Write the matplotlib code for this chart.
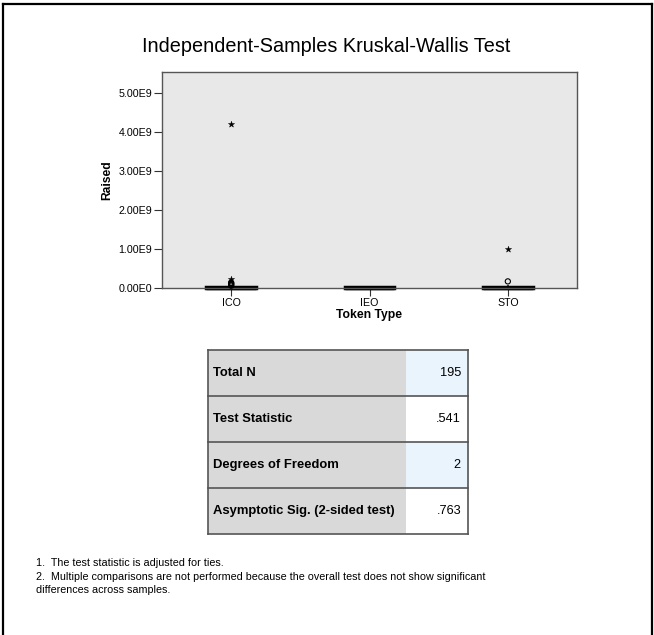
import matplotlib
matplotlib.use('Agg')
import matplotlib.pyplot as plt
from matplotlib.patches import Rectangle

plt.rcParams['font.family'] = ['Liberation Sans', 'DejaVu Sans']

# data
categories = ['ICO', 'IEO', 'STO']
box_q1 = [0.0, 0.0, 0.0]
box_med = [5e6, 3e6, 4e6]
box_q3 = [3e7, 2.5e7, 3e7]
whisker_lo = [0.0, 0.0, 0.0]
whisker_hi = [5e7, 2.5e7, 4e7]
outliers = [[6e7, 8e7, 1.0e8, 1.2e8, 1.4e8], [], [1.7e8]]   # circles
extremes = [[2.2e8, 4.22e9], [], [1.0e9]]                   # stars
y_ticks = [0, 1e9, 2e9, 3e9, 4e9, 5e9]
y_tick_labels = ['0.00E0', '1.00E9', '2.00E9', '3.00E9', '4.00E9', '5.00E9']

table_labels = ['Total N', 'Test Statistic', 'Degrees of Freedom', 'Asymptotic Sig. (2-sided test)']
table_values = ['195', '.541', '2', '.763']

footnotes = [
    '1.  The test statistic is adjusted for ties.',
    '2.  Multiple comparisons are not performed because the overall test does not show significant',
    'differences across samples.',
]

W, H = 654, 635
fig = plt.figure(figsize=(W / 100, H / 100), dpi=100)

# full-figure overlay in pixel coordinates for frame, table and notes
bg = fig.add_axes([0, 0, 1, 1])
bg.set_xlim(0, W)
bg.set_ylim(H, 0)
bg.axis('off')
bg.plot([3, 3], [H + 5, 3.5], color='black', lw=1.6)
bg.plot([3, 651.5], [3.5, 3.5], color='black', lw=1.6)
bg.plot([651.5, 651.5], [3.5, H + 5], color='black', lw=1.6)

bg.text(326, 47, 'Independent-Samples Kruskal-Wallis Test', ha='center', va='center',
        fontsize=14.3)

# boxplot axes
ax = fig.add_axes([162 / W, 1 - 288 / H, (577 - 162) / W, (288 - 71.5) / H])
ax.set_facecolor('#e8e8e8')
x = list(range(1, len(categories) + 1))
stats = []
for i, name in enumerate(categories):
    stats.append(dict(label=name, q1=box_q1[i], med=box_med[i], q3=box_q3[i],
                      whislo=whisker_lo[i], whishi=whisker_hi[i], fliers=[]))
bp = ax.bxp(stats, positions=x, widths=0.36, showcaps=False, patch_artist=True,
            boxprops=dict(facecolor='black', edgecolor='black', lw=2.5),
            medianprops=dict(color='black', lw=2.5),
            whiskerprops=dict(color='black', lw=1.2))
for artist_list in bp.values():
    for a in artist_list:
        a.set_clip_on(False)

for i in range(len(categories)):
    if outliers[i]:
        ax.scatter([x[i]] * len(outliers[i]), outliers[i], marker='o', s=14,
                   facecolors='none', edgecolors='black', lw=0.8, clip_on=False, zorder=4)
    if extremes[i]:
        ax.scatter([x[i]] * len(extremes[i]), extremes[i], marker='*', s=22,
                   color='black', lw=0.3, clip_on=False, zorder=4)

ax.set_xlim(0.5, 3.5)
ax.set_ylim(0, 5.56e9)
ax.set_yticks(y_ticks)
ax.set_yticklabels(y_tick_labels)
ax.set_xticks(x)
ax.set_xticklabels(categories)
ax.tick_params(axis='both', labelsize=7.7, length=6, width=0.8, color='#333333', pad=1)
for s in ax.spines.values():
    s.set_color('#555555')
    s.set_linewidth(1.0)
ax.set_ylabel('Raised', fontsize=8.7, fontweight='bold', labelpad=3.5)
ax.set_xlabel('Token Type', fontsize=8.7, fontweight='bold', labelpad=1)

# statistics table
tx0, tx1, tx2 = 208, 406, 468
row_tops = [350, 396, 442, 488]
row_h = 46
value_bg = ['#eaf4fd', 'white', '#eaf4fd', 'white']
for i, (lab, val) in enumerate(zip(table_labels, table_values)):
    y0 = row_tops[i]
    bg.add_patch(Rectangle((tx0, y0), tx1 - tx0, row_h, facecolor='#d9d9d9', edgecolor='none'))
    bg.add_patch(Rectangle((tx1, y0), tx2 - tx1, row_h, facecolor=value_bg[i], edgecolor='none'))
    bg.plot([tx0, tx2], [y0, y0], color='#555555', lw=1.2)
    bg.text(tx0 + 5, y0 + row_h / 2, lab, ha='left', va='center', fontsize=9.4, fontweight='bold')
    bg.text(tx2 - 7, y0 + row_h / 2, val, ha='right', va='center', fontsize=9.2)
t_bottom = row_tops[-1] + row_h
bg.plot([tx0, tx2], [t_bottom, t_bottom], color='#555555', lw=1.2)
bg.plot([tx0, tx0], [row_tops[0], t_bottom], color='#555555', lw=1.2)
bg.plot([tx2, tx2], [row_tops[0], t_bottom], color='#555555', lw=1.2)

for i, line in enumerate(footnotes):
    bg.text(36, 563 + i * 13.5, line, ha='left', va='center', fontsize=7.75)

fig.savefig('out.png', dpi=100)
